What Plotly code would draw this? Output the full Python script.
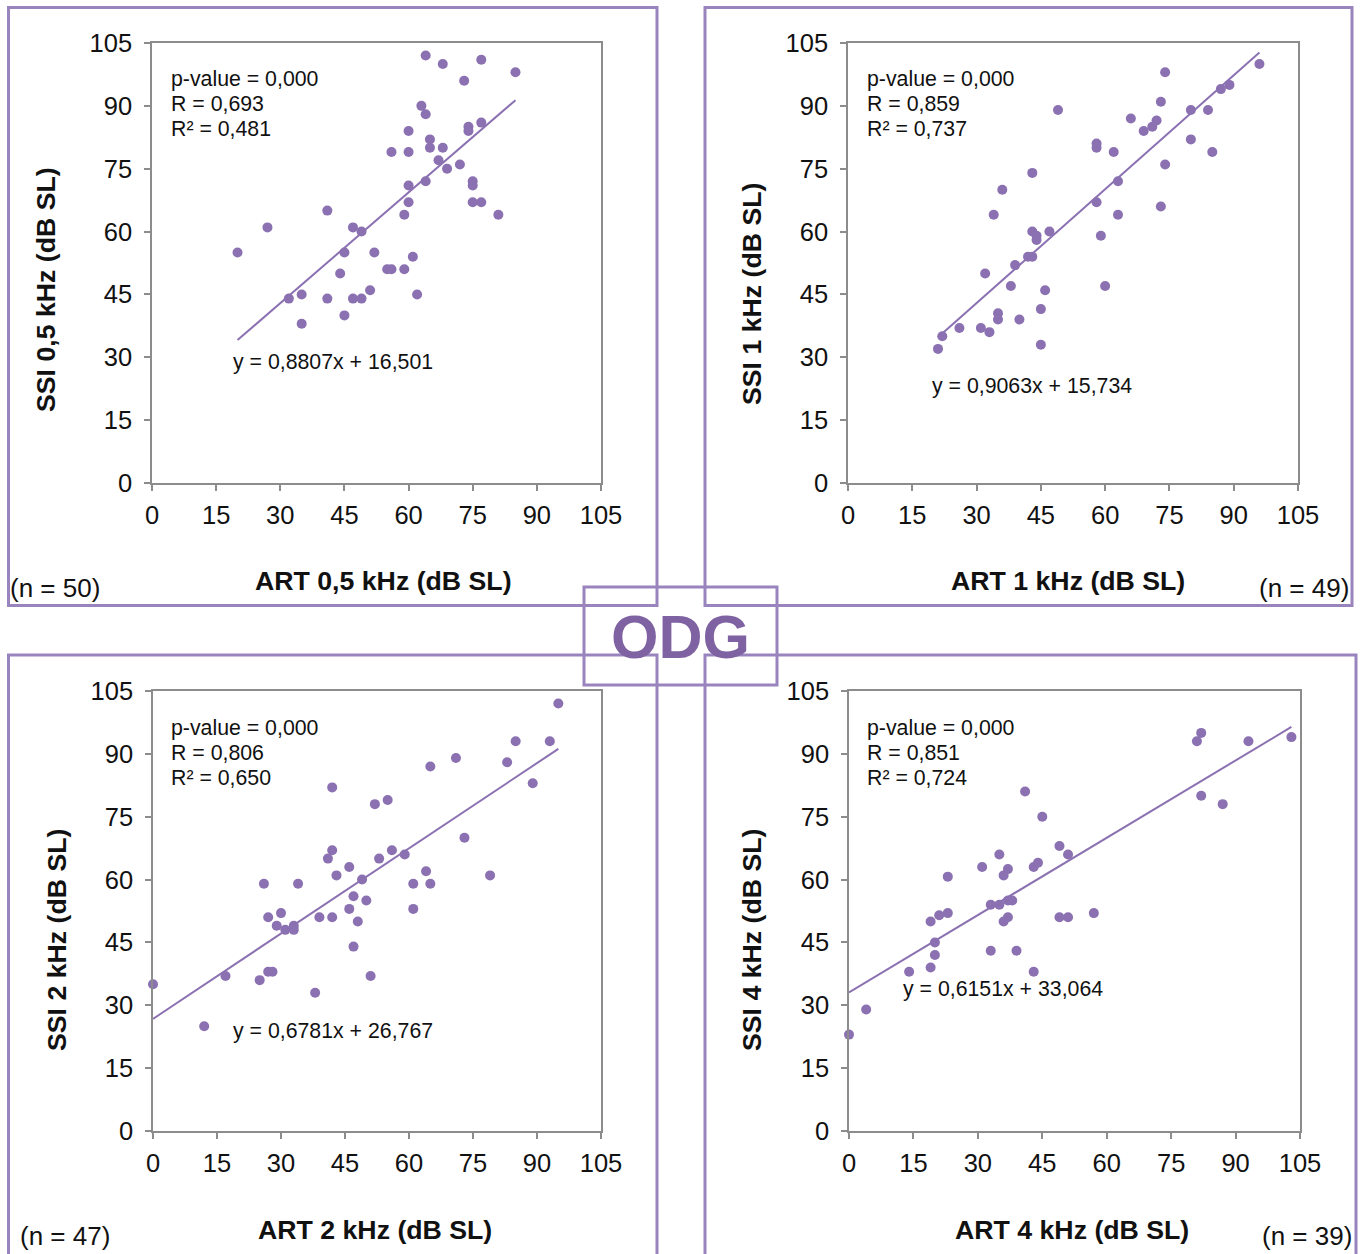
import plotly.graph_objects as go

W, H = 1362, 1254

# ---------------- data ----------------
art_05 = [64, 68, 77, 85, 73, 63, 64, 60, 74, 74, 77, 65, 65, 68, 56, 60, 67, 69, 72, 75,
          75, 64, 60, 60, 75, 77, 81, 59, 41, 27, 47, 49, 20, 45, 52, 61, 55, 56, 59, 44,
          51, 32, 35, 41, 47, 49, 62, 45, 35]
ssi_05 = [102, 100, 101, 98, 96, 90, 88, 84, 85, 84, 86, 82, 80, 80, 79, 79, 77, 75, 76, 72,
          71, 72, 71, 67, 67, 67, 64, 64, 65, 61, 61, 60, 55, 55, 55, 54, 51, 51, 51, 50,
          46, 44, 45, 44, 44, 44, 45, 40, 38]

art_1 = [96, 74, 87, 89, 73, 49, 80, 84, 66, 72, 71, 69, 80, 58, 58, 62, 85, 74, 43, 36,
         63, 58, 73, 34, 63, 43, 44, 44, 47, 59, 42, 43, 39, 32, 38, 60, 46, 45, 35, 35,
         40, 26, 31, 33, 22, 21, 45]
ssi_1 = [100, 98, 94, 95, 91, 89, 89, 89, 87, 86.5, 85, 84, 82, 81, 80, 79, 79, 76, 74, 70,
         72, 67, 66, 64, 64, 60, 59, 58, 60, 59, 54, 54, 52, 50, 47, 47, 46, 41.5, 40.5, 39,
         39, 37, 37, 36, 35, 32, 33]

art_2 = [95, 85, 93, 71, 65, 83, 89, 42, 52, 55, 73, 42, 41, 53, 56, 59, 46, 64, 43, 49,
         79, 26, 34, 61, 65, 47, 50, 46, 61, 30, 27, 39, 42, 48, 29, 31, 33, 33, 47, 17,
         27, 28, 25, 51, 0, 38, 12]
ssi_2 = [102, 93, 93, 89, 87, 88, 83, 82, 78, 79, 70, 67, 65, 65, 67, 66, 63, 62, 61, 60,
         61, 59, 59, 59, 59, 56, 55, 53, 53, 52, 51, 51, 51, 50, 49, 48, 49, 48, 44, 37,
         38, 38, 36, 37, 35, 33, 25]

art_4 = [82, 81, 93, 103, 82, 87, 41, 45, 49, 51, 35, 31, 43, 44, 37, 36, 23, 33, 35, 37,
         38, 23, 21, 19, 37, 36, 49, 51, 57, 20, 20, 33, 39, 19, 14, 43, 4, 0]
ssi_4 = [95, 93, 93, 94, 80, 78, 81, 75, 68, 66, 66, 63, 63, 64, 62.5, 61, 60.7, 54, 54, 55,
         55, 52, 51.5, 50, 51, 50, 51, 51, 52, 45, 42, 43, 43, 39, 38, 38, 29, 23]

panels = [
    dict(x=art_05, y=ssi_05, slope=0.8807, icpt=16.501,
         xt="ART 0,5 kHz (dB SL)", yt="SSI 0,5 kHz (dB SL)",
         stats=["p-value = 0,000", "R = 0,693", "R² = 0,481"],
         eq="y = 0,8807x + 16,501", n="(n = 50)"),
    dict(x=art_1, y=ssi_1, slope=0.9063, icpt=15.734,
         xt="ART 1 kHz (dB SL)", yt="SSI 1 kHz (dB SL)",
         stats=["p-value = 0,000", "R = 0,859", "R² = 0,737"],
         eq="y = 0,9063x + 15,734", n="(n = 49)"),
    dict(x=art_2, y=ssi_2, slope=0.6781, icpt=26.767,
         xt="ART 2 kHz (dB SL)", yt="SSI 2 kHz (dB SL)",
         stats=["p-value = 0,000", "R = 0,806", "R² = 0,650"],
         eq="y = 0,6781x + 26,767", n="(n = 47)"),
    dict(x=art_4, y=ssi_4, slope=0.6151, icpt=33.064,
         xt="ART 4 kHz (dB SL)", yt="SSI 4 kHz (dB SL)",
         stats=["p-value = 0,000", "R = 0,851", "R² = 0,724"],
         eq="y = 0,6151x + 33,064", n="(n = 39)"),
]

tick_vals = [0, 15, 30, 45, 60, 75, 90, 105]

# ---------------- layout geometry (pixels) ----------------
def px(x):
    return x / W

def py(y):
    return 1 - y / H

# plot area pixel boxes: (left, right, top, bottom)
areas = [(152, 601, 43, 483), (848, 1298, 43, 483),
         (153, 601, 691, 1131), (849, 1300, 691, 1131)]
# positions for texts
stat_pos = [(169, 79), (865, 79), (169, 728), (865, 728)]
eq_pos = [(231, 362), (930, 386), (231, 1031), (901, 989)]
xt_pos = [(383, 581), (1068, 581), (375, 1230), (1072, 1230)]
yt_pos = [(46, 290), (752, 294), (57, 940), (752, 940)]
n_pos = [(8, 588, "left"), (1351, 588, "right"), (18, 1236, "left"), (1354, 1236, "right")]

PURPLE = "#8B71B1"
FRAME = "#9A84BE"
GRAY = "#8C8C8C"
FONT = "Liberation Sans, Arial, sans-serif"

fig = go.Figure()
annotations = []
layout_axes = {}

for i, p in enumerate(panels):
    k = "" if i == 0 else str(i + 1)
    fig.add_trace(go.Scatter(
        x=p["x"], y=p["y"], mode="markers",
        marker=dict(color=PURPLE, size=10),
        xaxis="x" + k, yaxis="y" + k, cliponaxis=False, showlegend=False,
        hoverinfo="x+y"))
    x0, x1 = min(p["x"]), max(p["x"])
    fig.add_trace(go.Scatter(
        x=[x0, x1], y=[p["slope"] * x0 + p["icpt"], p["slope"] * x1 + p["icpt"]],
        mode="lines", line=dict(color=PURPLE, width=2),
        xaxis="x" + k, yaxis="y" + k, cliponaxis=False, showlegend=False,
        hoverinfo="skip"))

    l, r, t, b = areas[i]
    ax_common = dict(range=[0, 105], tickvals=tick_vals, showgrid=False, zeroline=False,
                     showline=True, linecolor=GRAY, linewidth=1.5, mirror=True,
                     ticks="outside", ticklen=6, tickcolor=GRAY, tickwidth=1.5,
                     tickfont=dict(family=FONT, size=25.5, color="#111111"),
                     fixedrange=True, automargin=False)
    layout_axes["xaxis" + k] = dict(ax_common, domain=[px(l), px(r)],
                                    anchor="y" + k, ticklabelstandoff=3)
    layout_axes["yaxis" + k] = dict(ax_common, domain=[py(b), py(t)],
                                    anchor="x" + k, ticklabelstandoff=7)

    sx, sy = stat_pos[i]
    for j, s in enumerate(p["stats"]):
        annotations.append(dict(text=s, x=px(sx), y=py(sy + j * 25), xref="paper", yref="paper",
                                xanchor="left", yanchor="middle", showarrow=False,
                                font=dict(family=FONT, size=21.3, color="#111111")))
    ex, ey = eq_pos[i]
    annotations.append(dict(text=p["eq"], x=px(ex), y=py(ey), xref="paper", yref="paper",
                            xanchor="left", yanchor="middle", showarrow=False,
                            font=dict(family=FONT, size=21.3, color="#111111")))
    tx, ty = xt_pos[i]
    annotations.append(dict(text="<b>" + p["xt"] + "</b>", x=px(tx), y=py(ty),
                            xref="paper", yref="paper", xanchor="center", yanchor="middle",
                            showarrow=False, font=dict(family=FONT, size=26.7, color="#111111")))
    yx, yy = yt_pos[i]
    annotations.append(dict(text="<b>" + p["yt"] + "</b>", x=px(yx), y=py(yy), textangle=-90,
                            xref="paper", yref="paper", xanchor="center", yanchor="middle",
                            showarrow=False, font=dict(family=FONT, size=26.7, color="#111111")))
    nx, ny, na = n_pos[i]
    annotations.append(dict(text=p["n"], x=px(nx), y=py(ny), xref="paper", yref="paper",
                            xanchor=na, yanchor="middle", showarrow=False,
                            font=dict(family=FONT, size=26, color="#111111")))

# ODG logo text
annotations.append(dict(text="<b>ODG</b>", x=px(680), y=py(637), xref="paper", yref="paper",
                        xanchor="center", yanchor="middle", showarrow=False,
                        font=dict(family=FONT, size=61, color="#7F62A2")))

def rect(x0, y0, x1, y1, fill="rgba(0,0,0,0)"):
    return dict(type="rect", xref="paper", yref="paper",
                x0=px(x0), x1=px(x1), y0=py(y0), y1=py(y1),
                line=dict(color=FRAME, width=3), fillcolor=fill, layer="above")

shapes = [
    rect(584, 587, 777, 685, fill="white"),
    rect(8.5, 7.5, 657, 605.5),
    rect(705, 7.5, 1352, 605.5),
    rect(8.5, 655, 657, 1262),
    rect(705, 655, 1356, 1262),
]

fig.update_layout(
    width=W, height=H, margin=dict(l=0, r=0, t=0, b=0, autoexpand=False),
    paper_bgcolor="white", plot_bgcolor="white",
    annotations=annotations, shapes=shapes,
    **layout_axes)

fig.write_html("out.html", config=dict(displayModeBar=False))
